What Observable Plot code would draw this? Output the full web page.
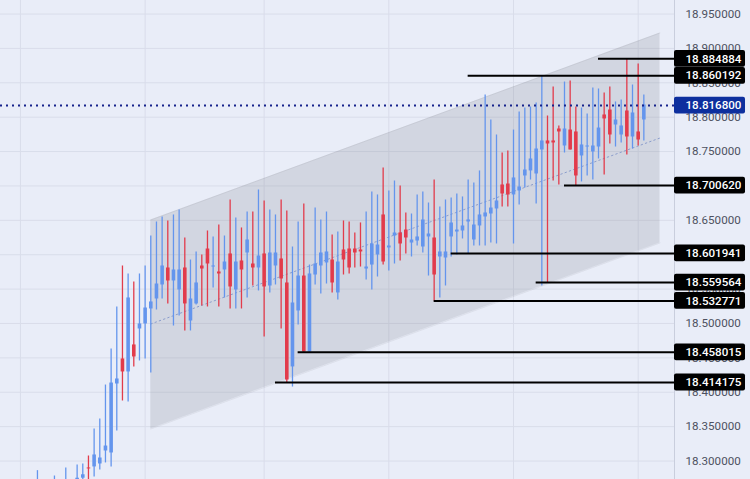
<!DOCTYPE html>
<html>
<head>
<meta charset="utf-8">
<script src="https://cdn.jsdelivr.net/npm/d3@7"></script>
<script src="https://cdn.jsdelivr.net/npm/@observablehq/plot@0.6"></script>
<style>
html,body{margin:0;padding:0;background:#e9edf8;overflow:hidden}
svg{display:block}
</style>
</head>
<body>
<div id="chart"></div>
<script>
const barIndex = [-17,-14,-12,-10,-9,-8,-7,-6,-5,-4,-3,-2,-1,0,1,2,3,4,5,6,7,8,9,10,11,12,13,14,15,16,17,18,19,20,21,22,23,24,25,26,27,28,29,30,31,32,33,34,35,36,37,38,39,40,41,42,43,44,45,46,47,48,49,50,51,52,53,54,55,56,57,58,59,60,61,62,63,64,65,66,67,68,69,70,71,72,73,74,75,76,77,78,79,80,81,82,83,84,85,86,87,88,89,90];
const highs = [18.2860,18.2782,18.2899,18.2942,18.2957,18.3073,18.3466,18.3612,18.4105,18.4629,18.5240,18.5836,18.5720,18.5603,18.5720,18.5836,18.6272,18.6476,18.6549,18.6491,18.6578,18.6650,18.6243,18.5923,18.6040,18.5996,18.6345,18.6258,18.6432,18.6272,18.6796,18.6534,18.6389,18.6621,18.6621,18.6941,18.6781,18.6650,18.6578,18.6796,18.6636,18.6112,18.6476,18.6738,18.5850,18.6680,18.6505,18.6621,18.6287,18.6330,18.6491,18.6476,18.6316,18.6462,18.6621,18.6912,18.6869,18.7261,18.6927,18.7072,18.6999,18.6607,18.6592,18.6869,18.6912,18.6752,18.7086,18.6694,18.6796,18.6825,18.6883,18.6840,18.7086,18.7043,18.7218,18.8322,18.7959,18.7741,18.7480,18.7508,18.7813,18.8075,18.8133,18.8148,18.8206,18.860192,18.8017,18.8439,18.7872,18.8511,18.8526,18.8148,18.8133,18.8046,18.8424,18.8410,18.8352,18.8439,18.8221,18.8250,18.884884,18.8468,18.8773,18.8322];
const lows = [18.2500,18.2500,18.2550,18.2600,18.2650,18.2600,18.2768,18.2870,18.2972,18.2914,18.3437,18.3873,18.3859,18.4368,18.4455,18.4484,18.4280,18.5196,18.5356,18.5284,18.4963,18.5109,18.4891,18.4891,18.5269,18.5255,18.5240,18.5516,18.5240,18.5371,18.5211,18.5211,18.5211,18.5371,18.5545,18.5473,18.4803,18.5444,18.5560,18.4920,18.414175,18.4076,18.4978,18.458015,18.4580,18.5560,18.5429,18.5574,18.5444,18.5342,18.5705,18.5720,18.5807,18.5821,18.5632,18.5487,18.5676,18.5850,18.5763,18.5865,18.5909,18.6011,18.5967,18.6127,18.6025,18.5690,18.532771,18.5371,18.5545,18.5967,18.5996,18.6229,18.6011,18.6127,18.6127,18.6127,18.6170,18.6156,18.6694,18.6694,18.6156,18.6723,18.6970,18.7086,18.6738,18.5545,18.559564,18.7072,18.7014,18.7479,18.7523,18.700620,18.7058,18.7145,18.7086,18.7392,18.7160,18.7610,18.7566,18.7625,18.7450,18.7537,18.7581,18.7654];
const opens = [18.2600,18.2600,18.2650,18.2700,18.2750,18.2899,18.2914,18.2957,18.3146,18.3117,18.4120,18.4484,18.4295,18.4688,18.4920,18.4993,18.5211,18.5356,18.5560,18.5807,18.5618,18.5487,18.5807,18.5036,18.5284,18.5836,18.6083,18.5821,18.5749,18.5778,18.6011,18.5487,18.5909,18.6025,18.5865,18.5807,18.6011,18.5545,18.5836,18.5938,18.5589,18.4368,18.5182,18.5690,18.4585,18.5705,18.5836,18.5880,18.5923,18.5444,18.6069,18.6083,18.6083,18.6069,18.5792,18.5850,18.5996,18.6578,18.6098,18.6272,18.6316,18.6359,18.6170,18.6199,18.6112,18.6258,18.6243,18.5967,18.5952,18.6258,18.6330,18.6345,18.6476,18.6214,18.6418,18.6549,18.6592,18.6665,18.7014,18.7028,18.6869,18.6927,18.7145,18.7218,18.7174,18.7523,18.7654,18.7654,18.7828,18.7581,18.7813,18.7785,18.7436,18.7566,18.7494,18.7566,18.8032,18.8104,18.7886,18.7741,18.8090,18.7712,18.7785,18.7959];
const closes = [18.2650,18.2650,18.2700,18.2750,18.2800,18.2885,18.3088,18.3044,18.3218,18.4134,18.4193,18.4295,18.5371,18.4513,18.4993,18.5225,18.5313,18.5574,18.5836,18.5618,18.5778,18.5778,18.5284,18.5356,18.5589,18.5792,18.5865,18.5836,18.5720,18.5894,18.5531,18.5894,18.5778,18.6214,18.5807,18.5981,18.5531,18.6025,18.6025,18.5647,18.4178,18.5298,18.5690,18.4585,18.5720,18.5865,18.6025,18.6040,18.5589,18.5894,18.5923,18.5807,18.6025,18.6040,18.5821,18.6156,18.6141,18.5894,18.6127,18.6316,18.6156,18.6243,18.6214,18.6258,18.6505,18.6301,18.5705,18.6040,18.6040,18.6461,18.6359,18.6418,18.6505,18.6432,18.6578,18.6607,18.6679,18.6781,18.6883,18.6869,18.7116,18.6985,18.7232,18.7392,18.7537,18.7654,18.7610,18.7625,18.7785,18.7828,18.7523,18.7145,18.7596,18.7581,18.7581,18.7842,18.7974,18.7741,18.7959,18.7872,18.7712,18.8061,18.7668,18.8177];

const channelBars = [3, 92.85];
const channelUpper = [18.6505, 18.9224];
const channelMiddle = [18.4993, 18.7697];
const channelLower = [18.3466, 18.6171];

const priceTicks = [18.30,18.35,18.40,18.45,18.50,18.55,18.60,18.65,18.70,18.75,18.80,18.85,18.90,18.95];
const timeGridBars = [-20,2,23,45,67,89];

const levelPrices = [18.414175,18.458015,18.532771,18.559564,18.601941,18.700620,18.860192,18.884884];
const levelStartBars = [25,29,53,71,56,76,59,82];
const lastPrice = 18.8168;

const UP = "#6495ed", DOWN = "#e23b4b", BG = "#e9edf8", GRID = "#d9ddea";

const candles = barIndex.map((bar,k)=>({bar,high:highs[k],low:lows[k],open:opens[k],close:closes[k]}));
const channel = channelBars.map((bar,k)=>({bar,upper:channelUpper[k],middle:channelMiddle[k],lower:channelLower[k]}));
const levels = levelPrices.map((price,k)=>({price,start:levelStartBars[k]}));

const xMin=-23.52, xAxis=95.41, labelEnd=107.94, labelText=97.35;
const labelHalf=0.0122;
const colour = d => d.close < d.open ? DOWN : UP;
const font = {fontFamily:"Roboto, sans-serif", fontSize:11.6};

const chart = Plot.plot({
  width:750, height:479,
  marginLeft:0, marginTop:0, marginBottom:0, marginRight:76,
  style:{background:BG, overflow:"hidden"},
  x:{domain:[xMin,xAxis], range:[0,674], axis:null},
  y:{domain:[18.27313,18.96966], range:[479,0], axis:null},
  marks:[
    Plot.gridY(priceTicks,{stroke:GRID,strokeOpacity:1,strokeWidth:1}),
    Plot.gridX(timeGridBars,{stroke:GRID,strokeOpacity:1,strokeWidth:1}),
    Plot.ruleX([xAxis],{stroke:"#c9cedd",strokeWidth:1}),
    Plot.areaY(channel,{x:"bar",y1:"lower",y2:"upper",fill:"#787b86",fillOpacity:0.2}),
    Plot.lineY(channel,{x:"bar",y:"upper",stroke:"#787b86",strokeOpacity:0.12,strokeWidth:1}),
    Plot.lineY(channel,{x:"bar",y:"lower",stroke:"#787b86",strokeOpacity:0.12,strokeWidth:1}),
    Plot.lineY(channel,{x:"bar",y:"middle",stroke:"#7f93c8",strokeWidth:1,strokeDasharray:"1.5,3",strokeOpacity:0.85}),
    Plot.ruleX(candles,{x:"bar",y1:"low",y2:"high",stroke:colour,strokeWidth:1.3}),
    Plot.ruleX(candles,{x:"bar",y1:"open",y2:"close",stroke:colour,strokeWidth:3.6}),
    Plot.axisY(priceTicks,{anchor:"right",label:null,tickSize:0,tickPadding:11,textAnchor:"start",
      tickFormat:d=>d.toFixed(6),fill:"#4d5160",...font}),
    Plot.ruleY([lastPrice],{x1:xMin,x2:xAxis,stroke:"#16238c",strokeWidth:2,strokeDasharray:"2,4"}),
    Plot.ruleY(levels,{y:"price",x1:"start",x2:xAxis,stroke:"#000",strokeWidth:2}),
    Plot.rect(levels,{x1:xAxis,x2:labelEnd,y1:d=>d.price-labelHalf,y2:d=>d.price+labelHalf,fill:"#000",rx:2}),
    Plot.text(levels,{x:labelText,y:"price",text:d=>d.price.toFixed(6),fill:"#fff",textAnchor:"start",fontWeight:500,...font}),
    Plot.rect([lastPrice],{x1:xAxis,x2:labelEnd,y1:d=>d-labelHalf,y2:d=>d+labelHalf,fill:"#0d2f9e",rx:2}),
    Plot.text([lastPrice],{x:labelText,y:d=>d,text:d=>d.toFixed(6),fill:"#fff",textAnchor:"start",fontWeight:500,...font})
  ]
});
document.getElementById("chart").append(chart);
</script>
</body>
</html>
